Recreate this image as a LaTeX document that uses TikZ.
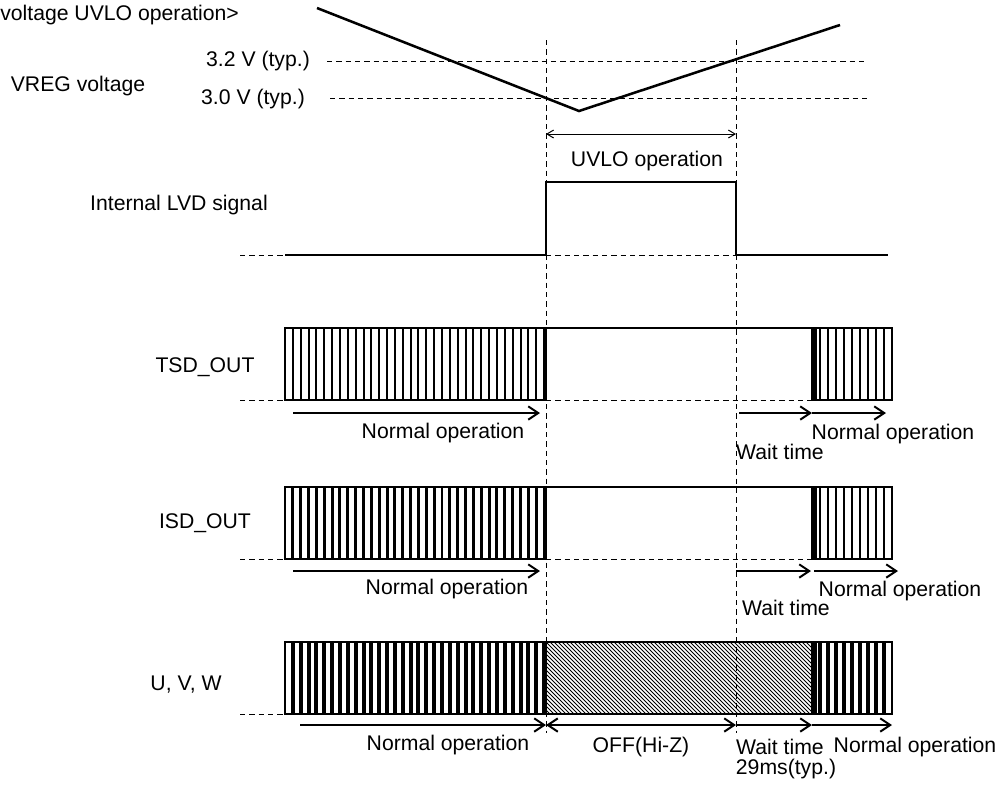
\documentclass[tikz,border=0pt]{standalone}
\usepackage{fontspec}
\setmainfont{Liberation Sans}
\usetikzlibrary{arrows.meta}
\begin{document}
\begin{tikzpicture}[x=0.75pt,y=-0.75pt,
  lbl/.style={inner sep=0pt,font=\fontsize{15.9}{18}\selectfont},
  guide/.style={line width=0.75pt,dash pattern=on 4pt off 3pt},
  sig/.style={line width=1.9pt},
  boxline/.style={line width=1.5pt},
  bold arrow/.style={line width=1.5pt,-{Straight Barb[length=7.5pt,width=10pt]}},
  both arrow/.style={line width=1.5pt,{Straight Barb[length=7.5pt,width=10pt]}-{Straight Barb[length=7.5pt,width=10pt]}},
  thin arrow/.style={line width=0.75pt,{Straight Barb[length=5pt,width=6pt]}-{Straight Barb[length=5pt,width=6pt]}},
  stripe/.style={line width=1.5pt},
  stripeb/.style={line width=2.2pt},
  stripec/.style={line width=3pt}]
\useasboundingbox (0,0) rectangle (1004,794);

% ---------- labels ----------
\node[lbl,anchor=west] (title) at (0,15) {voltage UVLO operation>};
\node[lbl] (v32) at (258,61) {3.2 V (typ.)};
\node[lbl] (v30) at (253,99) {3.0 V (typ.)};
\node[lbl] (vreg) at (78,86) {VREG voltage};
\node[lbl] (lvd) at (179,205) {Internal LVD signal};
\node[lbl] (tsd) at (205,367) {TSD\_OUT};
\node[lbl] (isd) at (205,523) {ISD\_OUT};
\node[lbl] (uvw) at (186,685) {U, V, W};
\node[lbl] (uvlo) at (647,161) {UVLO operation};

% ---------- coordinates ----------
\coordinate (ta) at (546,40);
\coordinate (tb) at (736,40);
\coordinate (ba) at (546,733);
\coordinate (bb) at (736,733);

% ---------- VREG ----------
\draw[guide] (327,61) -- (866,61);
\draw[guide] (330,98) -- (867,98);
\coordinate (vs) at (317,8);
\coordinate (vm) at (579,111);
\coordinate (ve) at (840,25);
\draw[sig] (vs) -- (vm) -- (ve);
\coordinate (ua) at (546,134);
\coordinate (ub) at (736,134);
\draw[thin arrow] (ua) -- (ub);

% ---------- LVD ----------
\draw[guide] (240,255) -- (285,255);
\draw[guide] (546,255) -- (736,255);
\draw[sig] (285,255) -- (546,255) -- (546,182) -- (736,182) -- (736,255) -- (888,255);

% ---------- TSD ----------
\draw[guide] (240,400) -- (285,400);
\draw[guide] (546,400) -- (812,400);
\foreach \k in {1,...,33} \draw[stripe] ({285+7.85*\k},328) -- ++(0,72);
\draw[boxline] (285,328) rectangle (546,400);
\draw[boxline] (546,328) -- (812,328);
\foreach \k in {1,...,9} \draw[stripe] ({812+8*\k},328) -- ++(0,72);
\draw[line width=4pt] (814,328) -- (814,400);
\draw[boxline] (812,328) rectangle (892,400);
\coordinate (t1) at (293,413); \coordinate (t2) at (540,413);
\coordinate (t3) at (739,413); \coordinate (t4) at (812,413);
\coordinate (t5) at (886,413);
\draw[bold arrow] (t1) -- (t2);
\draw[bold arrow] (t3) -- (t4);
\draw[bold arrow] (t4) -- (t5);
\node[lbl] (tn1) at (443,433) {Normal operation};
\node[lbl] (tn2) at (893,434) {Normal operation};
\node[lbl] (tw) at (780,452) {Wait time};

% ---------- ISD ----------
\draw[guide] (240,559) -- (285,559);
\draw[guide] (546,559) -- (812,559);
\foreach \k in {1,...,33} \draw[stripeb] ({285+7.85*\k},487) -- ++(0,72);
\draw[boxline] (285,487) rectangle (546,559);
\draw[boxline] (546,487) -- (812,487);
\foreach \k in {1,...,9} \draw[stripeb] ({812+8*\k},487) -- ++(0,72);
\draw[line width=4pt] (814,487) -- (814,559);
\draw[boxline] (812,487) rectangle (892,559);
\coordinate (i1) at (293,571); \coordinate (i2) at (540,571);
\coordinate (i3) at (736,571); \coordinate (i4) at (811,571);
\coordinate (i5) at (814,571); \coordinate (i6) at (898,571);
\draw[bold arrow] (i1) -- (i2);
\draw[bold arrow] (i3) -- (i4);
\draw[bold arrow] (i5) -- (i6);
\node[lbl] (in1) at (447,589) {Normal operation};
\node[lbl] (in2) at (900,591) {Normal operation};
\node[lbl] (iw) at (786,608) {Wait time};

% ---------- U V W ----------
\draw[guide] (240,714) -- (285,714);
\foreach \k in {1,...,33} \draw[stripec] ({285+7.85*\k},642) -- ++(0,72);
\draw[boxline] (285,642) rectangle (546,714);
\begin{scope}
  \clip (546,642) rectangle (812,714);
  \foreach \k in {0,...,86} \draw[line width=0.7pt] ({474+4*\k},642) -- ++(72,72);
\end{scope}
\draw[boxline] (546,642) rectangle (812,714);
\foreach \k in {1,...,9} \draw[stripec] ({812+8*\k},642) -- ++(0,72);
\draw[line width=4pt] (814,642) -- (814,714);
\draw[boxline] (812,642) rectangle (892,714);
\coordinate (u1) at (300,725); \coordinate (u2) at (546,725);
\coordinate (u3) at (736,725); \coordinate (u4) at (812,725);
\coordinate (u5) at (892,725);
\draw[bold arrow] (u1) -- (u2);
\draw[both arrow] (u2) -- (u3);
\draw[bold arrow] (u3) -- (u4);
\draw[bold arrow] (u4) -- (u5);
\node[lbl] (un1) at (448,745) {Normal operation};
\node[lbl] (uoff) at (641,747) {OFF(Hi-Z)};
\node[lbl] (uw) at (780,747) {Wait time};
\node[lbl] (un2) at (915,747) {Normal operation};
\node[lbl] (u29) at (786,769) {29ms(typ.)};

% ---------- vertical guides ----------
\draw[guide] (ta) -- (ba);
\draw[guide] (tb) -- (bb);
\end{tikzpicture}
\end{document}
